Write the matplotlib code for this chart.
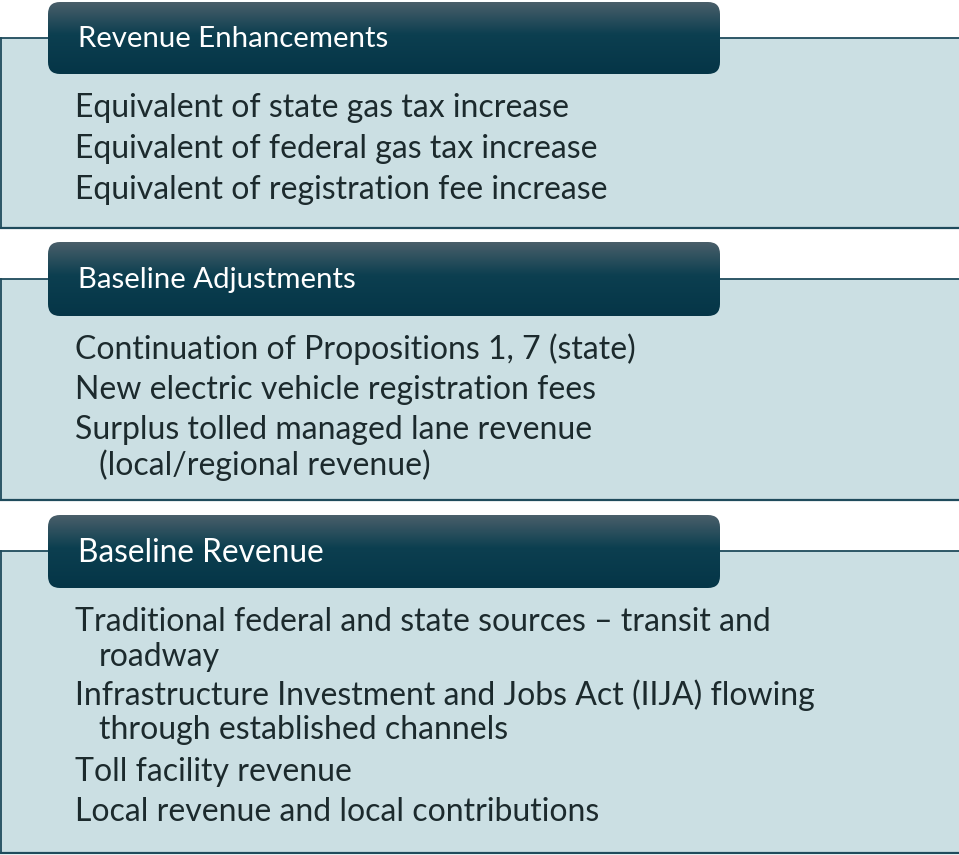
import matplotlib
matplotlib.use("Agg")
import matplotlib.pyplot as plt
from matplotlib.patches import FancyBboxPatch, Rectangle
import numpy as np

W, H = 959, 855

headers = ["Revenue Enhancements", "Baseline Adjustments", "Baseline Revenue"]
items = [
    ["Equivalent of state gas tax increase",
     "Equivalent of federal gas tax increase",
     "Equivalent of registration fee increase"],
    ["Continuation of Propositions 1, 7 (state)",
     "New electric vehicle registration fees",
     "Surplus tolled managed lane revenue\n(local/regional revenue)"],
    ["Traditional federal and state sources \u2013 transit and\nroadway",
     "Infrastructure Investment and Jobs Act (IIJA) flowing\nthrough established channels",
     "Toll facility revenue",
     "Local revenue and local contributions"],
]

# layout (pixel units)
box_y = [(38, 228), (279, 500), (551, 853)]
hdr_y = [(2, 74), (242, 316), (515, 588)]
item_y = [[108, 149, 190], [349, 390, 430], [622, 695, 772, 812]]
hdr_fs = [21.2, 21.2, 22.8]

fill = "#cbdfe3"
edge = "#1f4b5c"
txt = "#1c2a2d"

fig = plt.figure(figsize=(W / 100, H / 100), dpi=100)
ax = fig.add_axes([0, 0, 1, 1])
ax.set_xlim(0, W)
ax.set_ylim(H, 0)
ax.axis("off")

grad = np.linspace(0, 1, 256)
c_top = np.array([0x4a, 0x5f, 0x6a]) / 255
c_mid = np.array([0x0c, 0x3f, 0x50]) / 255
c_bot = np.array([0x05, 0x35, 0x47]) / 255
img = np.zeros((256, 1, 3))
for i, t in enumerate(grad):
    if t < 0.45:
        s = t / 0.45
        img[i, 0] = c_top * (1 - s) + c_mid * s
    else:
        s = (t - 0.45) / 0.55
        img[i, 0] = c_mid * (1 - s) + c_bot * s

for k in range(3):
    y0, y1 = box_y[k]
    ax.add_patch(Rectangle((0, y0), W, y1 - y0, facecolor=fill, edgecolor="none", zorder=1))
    ax.plot([0, W], [y0, y0], color=edge, lw=1.3, zorder=2)
    ax.plot([0, W], [y1, y1], color=edge, lw=1.6, zorder=2)
    ax.plot([0.5, 0.5], [y0, y1], color=edge, lw=1.3, zorder=2)

    hy0, hy1 = hdr_y[k]
    r = 12
    patch = FancyBboxPatch((48 + r, hy0 + r), 720 - 48 - 2 * r, hy1 - hy0 - 2 * r,
                           boxstyle=f"round,pad={r}", facecolor="none",
                           edgecolor="none", zorder=3)
    ax.add_patch(patch)
    im = ax.imshow(img, extent=(48, 720, hy1, hy0), aspect="auto", zorder=3,
                   interpolation="bilinear")
    im.set_clip_path(patch)
    ax.text(78, (hy0 + hy1) / 2 + 1, headers[k], color="white", fontsize=hdr_fs[k],
            family="Lato", va="center", ha="left", zorder=4)

    for txtline, yy in zip(items[k], item_y[k]):
        lines = txtline.split("\n")
        ax.text(75, yy, lines[0], color=txt, fontsize=23, family="Lato",
                va="center", ha="left", zorder=4)
        if len(lines) > 1:
            ax.text(99, yy + 35, lines[1], color=txt, fontsize=23, family="Lato",
                    va="center", ha="left", zorder=4)

fig.savefig("out.png", dpi=100)
